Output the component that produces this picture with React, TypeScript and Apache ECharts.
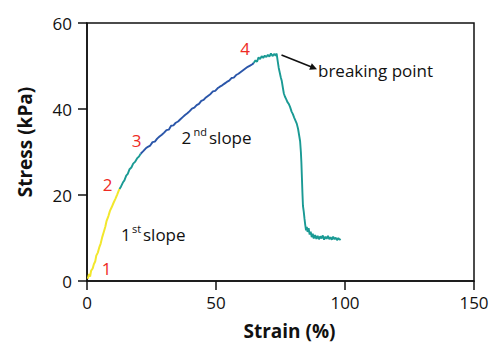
import React, { useEffect, useRef } from "react";
import * as echarts from "echarts";

const xTicks = [0, 50, 100, 150];
const yTicks = [0, 20, 40, 60];

const firstSlope: number[][] = [
  [0.3, 0.5], [0.8, 1.6], [1.2, 1.0], [1.6, 2.4], [2.2, 2.9], [2.6, 3.8], [3.2, 4.6], [3.6, 5.9],
  [4.2, 6.6], [4.8, 7.9], [5.3, 8.7], [5.9, 10.2], [6.5, 11.4], [7.1, 12.6], [7.6, 14.0], [8.3, 15.1],
  [8.9, 16.3], [9.6, 17.2], [10.3, 18.2], [11.0, 19.1], [11.7, 20.1], [12.3, 21.0], [12.6, 21.4],
];

const transition: number[][] = [
  [12.6, 21.4], [13.2, 22.0], [13.9, 22.9], [14.5, 23.4], [15.2, 24.5], [15.8, 24.9], [16.5, 26.0],
  [17.2, 26.4], [17.9, 27.3], [18.6, 27.7], [19.4, 28.5], [20.2, 29.0], [20.8, 29.6],
];

const secondSlope: number[][] = [
  [20.8, 29.6], [21.8, 30.2], [22.7, 30.8], [23.6, 31.2], [24.5, 31.5], [25.4, 32.3], [26.3, 32.4],
  [27.2, 33.1], [28.1, 33.6], [29.0, 34.0], [29.9, 34.5], [30.8, 35.1], [31.7, 35.2], [32.6, 36.1],
  [33.5, 36.2], [34.4, 36.8], [35.3, 37.1], [36.2, 37.6], [37.1, 38.1], [38.0, 38.6], [38.9, 39.0],
  [39.8, 39.5], [40.7, 40.1], [41.6, 40.3], [42.5, 40.9], [43.4, 41.2], [44.3, 41.9], [45.2, 42.1],
  [46.1, 42.7], [47.0, 43.1], [47.9, 43.5], [48.8, 44.1], [49.7, 44.2], [50.6, 44.8], [51.5, 45.2],
  [52.4, 45.5], [53.3, 45.9], [54.2, 46.3], [55.1, 46.6], [56.0, 47.2], [56.9, 47.3], [57.8, 47.9],
  [58.7, 48.2], [59.6, 48.6], [60.5, 49.0], [61.4, 49.4], [62.3, 49.8], [63.2, 50.1], [64.1, 50.4],
  [64.6, 50.7],
];

const breaking: number[][] = [
  [64.6, 50.7], [65.3, 51.3], [65.9, 51.0], [66.5, 52.0], [67.1, 51.6], [67.7, 52.3], [68.3, 51.9],
  [68.9, 52.4], [69.5, 52.1], [70.1, 52.6], [70.7, 52.2], [71.3, 52.9], [71.9, 52.3], [72.5, 52.8],
  [73.1, 52.4], [73.5, 52.9], [73.9, 51.2], [74.3, 49.6], [74.7, 48.5], [75.1, 47.4], [75.5, 46.5],
  [75.9, 45.0], [76.3, 43.6], [76.7, 42.9], [77.2, 42.3], [77.7, 41.6], [78.2, 41.2], [78.7, 40.5],
  [79.3, 39.4], [79.8, 38.8], [80.3, 38.0], [80.8, 37.3], [81.3, 36.6], [81.8, 35.4], [82.3, 33.6],
  [82.6, 32.5], [82.9, 30.0], [83.1, 27.5], [83.3, 24.0], [83.5, 20.5], [83.7, 17.5], [84.0, 16.2],
  [84.3, 14.5], [84.6, 13.0], [84.9, 11.8], [85.2, 12.6], [85.5, 11.4], [85.9, 12.3], [86.3, 10.8],
  [86.7, 11.5], [87.1, 10.2], [87.5, 11.0], [87.9, 9.9], [88.4, 10.7], [88.9, 9.8], [89.4, 10.5],
  [89.9, 9.7], [90.4, 10.4], [90.9, 9.9], [91.4, 10.6], [91.9, 9.6], [92.4, 10.3], [92.9, 9.8],
  [93.4, 10.5], [93.9, 9.7], [94.4, 10.2], [94.9, 9.6], [95.4, 10.3], [95.9, 9.7], [96.4, 10.1],
  [96.9, 9.5], [97.4, 10.0], [97.9, 9.6], [98.3, 9.8],
];

const FONT = "'Open Sans', 'Noto Sans', sans-serif";
const RED = "#ee2a24";

export default function App() {
  const ref = useRef<HTMLDivElement>(null);
  useEffect(() => {
    if (!ref.current) return;
    const chart = echarts.init(ref.current, undefined, { renderer: "svg" });
    const line = (data: number[][], color: string, width = 1.9) => ({
      type: "line",
      data,
      showSymbol: false,
      symbol: "none",
      lineStyle: { color, width },
      z: 3,
    });
    const txt = (text: string, x: number, y: number, size: number, color = "#111", align = "left", weight = "normal", rotation = 0) => ({
      type: "text",
      x,
      y,
      rotation,
      style: { text, fill: color, font: `${weight} ${size}px ${FONT}`, textAlign: align, textVerticalAlign: "middle" },
      z: 10,
    });
    chart.setOption({
      animation: false,
      grid: { left: 87, right: 18, top: 23, bottom: 62, show: true, borderColor: "#111", borderWidth: 1.5 },
      xAxis: {
        type: "value",
        min: xTicks[0],
        max: xTicks[xTicks.length - 1],
        interval: 50,
        splitLine: { show: false },
        axisLine: { show: true, lineStyle: { color: "#111", width: 1.5 } },
        axisTick: { show: true, inside: false, length: 9, lineStyle: { color: "#111", width: 1.5 } },
        axisLabel: { color: "#111", fontSize: 17, fontFamily: FONT, margin: 13 },
      },
      yAxis: {
        type: "value",
        min: yTicks[0],
        max: yTicks[yTicks.length - 1],
        interval: 20,
        splitLine: { show: false },
        axisLine: { show: true, lineStyle: { color: "#111", width: 1.5 } },
        axisTick: { show: true, inside: false, length: 9, lineStyle: { color: "#111", width: 1.5 } },
        axisLabel: { color: "#111", fontSize: 17, fontFamily: FONT, margin: 15 },
      },
      series: [
        line(firstSlope, "#f2e72c", 2),
        line(transition, "#1a9a94"),
        line(secondSlope, "#2b56a9"),
        line(breaking, "#1a9a94"),
      ],
      graphic: [
        txt("Strain (%)", 289.5, 331, 19, "#111", "center", "bold"),
        txt("Stress (kPa)", 25, 142, 19, "#111", "center", "bold", Math.PI / 2),
        txt("1", 106.5, 268.5, 17, RED, "center"),
        txt("2", 107.5, 184.5, 17, RED, "center"),
        txt("3", 136.5, 140.5, 17, RED, "center"),
        txt("4", 245, 48.5, 17, RED, "center"),
        txt("1", 121, 234, 17),
        txt("st", 132, 228, 11),
        txt("slope", 143, 234, 17),
        txt("2", 181.5, 137, 17),
        txt("nd", 193.5, 131, 11),
        txt("slope", 209, 137, 17),
        txt("breaking point", 318, 70.5, 17),
        {
          type: "line",
          shape: { x1: 281.5, y1: 55, x2: 311, y2: 66.8 },
          style: { stroke: "#111", lineWidth: 1.6 },
          z: 10,
        },
        {
          type: "polygon",
          shape: { points: [[317, 69.2], [309.2, 69.8], [311.8, 63.2]] },
          style: { fill: "#111" },
          z: 10,
        },
      ],
    });
    return () => chart.dispose();
  }, []);
  return <div ref={ref} style={{ width: 492, height: 343, position: "absolute", left: 0, top: 0 }} />;
}
